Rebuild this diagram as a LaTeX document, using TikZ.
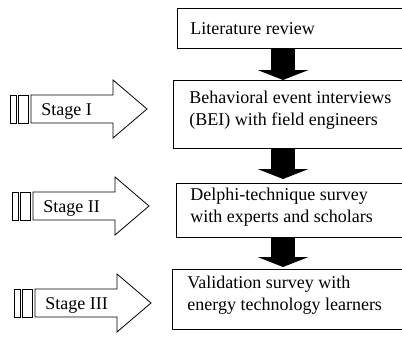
\documentclass[tikz,border=0pt]{standalone}
\usepackage{fontspec}
\setmainfont{Liberation Serif}
\usetikzlibrary{arrows.meta}

\begin{document}
\begin{tikzpicture}[x=1pt,y=-1pt,line width=0.8pt,
 box/.style={draw,rectangle,anchor=north west,minimum width=240pt,inner sep=0pt},
 txt/.style={anchor=north west,align=left,inner sep=0pt,font=\fontsize{18}{22}\selectfont},
 flow/.style={line width=24pt,-{Triangle[width=51pt,length=10pt,line width=0pt]}},
 stagetext/.style={anchor=west,inner sep=0pt,font=\fontsize{18}{22}\selectfont}]
 \path[use as bounding box,clip] (0,0) rectangle (402,338); %枠
 \node[box,minimum height=40pt] (lit) at (177,8) {}; %文献
 \node[box,minimum height=68pt] (bei) at (173,80) {}; %BEI
 \node[box,minimum height=54pt] (delphi) at (176,183) {}; %デルファイ
 \node[box,minimum height=60pt] (valid) at (172,269) {}; %検証
 \node[txt,anchor=west] (littext) at ([xshift=13pt]lit.west) {Literature review};
 \node[txt] (beitext) at ([shift={(16pt,-11pt)}]bei.north west) {Behavioral event interviews\\(BEI) with field engineers};
 \node[txt] (delphitext) at ([shift={(14pt,-5pt)}]delphi.north west) {Delphi-technique survey\\with experts and scholars};
 \node[txt] (validtext) at ([shift={(15pt,-7pt)}]valid.north west) {Validation survey with\\energy technology learners};
 \coordinate (mid) at (283,0); %矢印の軸
 \draw[flow] (lit.south -| mid) -- (bei.north -| mid); %矢印1
 \draw[flow] (bei.south -| mid) -- ([yshift=4pt]delphi.north -| mid); %矢印2
 \draw[flow] (delphi.south -| mid) -- ([yshift=2pt]valid.north -| mid); %矢印3
 \foreach \y/\dx/\n in {109/0/I,206/2/II,303/4/III}{
  \draw (10+\dx,\y-14) rectangle (16+\dx,\y+14); %細い枠
  \draw (18+\dx,\y-14) rectangle (28+\dx,\y+14);
  \draw (31+\dx,\y-14) -- (113+\dx,\y-14) -- (113+\dx,\y-29) -- (147+\dx,\y) -- (113+\dx,\y+29) -- (113+\dx,\y+14) -- (31+\dx,\y+14) -- cycle; %段階の矢印
  \node[stagetext] (stage\n) at (41+\dx,\y+2) {Stage \n};
 }
\end{tikzpicture}
\end{document}
